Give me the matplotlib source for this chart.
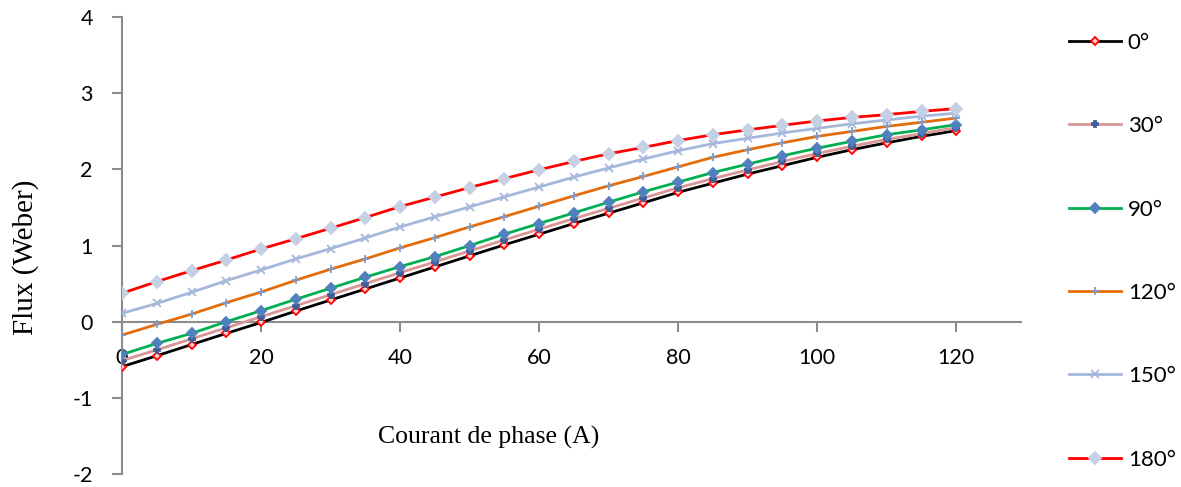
import numpy as np
import matplotlib
matplotlib.use('Agg')
from matplotlib import pyplot as plt

# courant de phase (A)
courant = [0, 5, 10, 15, 20, 25, 30, 35, 40, 45, 50, 55, 60,
           65, 70, 75, 80, 85, 90, 95, 100, 105, 110, 115, 120]

# flux (Weber) per rotor angle
flux_0 = [-0.59, -0.447, -0.30, -0.153, -0.01, 0.14, 0.285, 0.43, 0.575, 0.72, 0.865, 1.01, 1.15,
          1.29, 1.426, 1.562, 1.70, 1.82, 1.94, 2.05, 2.16, 2.26, 2.35, 2.435, 2.51]
flux_30 = [-0.51, -0.37, -0.225, -0.08, 0.065, 0.21, 0.355, 0.50, 0.645, 0.785, 0.93, 1.075, 1.215,
           1.355, 1.49, 1.625, 1.76, 1.88, 1.995, 2.105, 2.21, 2.305, 2.395, 2.47, 2.55]
flux_90 = [-0.43, -0.285, -0.153, 0.0, 0.145, 0.295, 0.44, 0.585, 0.724, 0.855, 1.0, 1.15, 1.29,
           1.43, 1.57, 1.707, 1.834, 1.96, 2.07, 2.18, 2.28, 2.37, 2.457, 2.52, 2.59]
flux_120 = [-0.175, -0.035, 0.10, 0.25, 0.39, 0.545, 0.69, 0.825, 0.97, 1.105, 1.246, 1.38, 1.518,
            1.654, 1.786, 1.908, 2.035, 2.16, 2.26, 2.35, 2.434, 2.50, 2.566, 2.62, 2.675]
flux_150 = [0.11, 0.24, 0.386, 0.54, 0.68, 0.825, 0.96, 1.10, 1.245, 1.378, 1.509, 1.64, 1.77,
            1.90, 2.02, 2.137, 2.246, 2.34, 2.41, 2.48, 2.54, 2.60, 2.65, 2.70, 2.74]
flux_180 = [0.374, 0.527, 0.671, 0.81, 0.956, 1.09, 1.228, 1.369, 1.513, 1.637, 1.763, 1.88, 1.996,
            2.105, 2.206, 2.29, 2.38, 2.457, 2.52, 2.58, 2.637, 2.684, 2.72, 2.763, 2.80]

labels = ['0°', '30°', '90°', '120°', '150°', '180°']
x_ticks = [0, 20, 40, 60, 80, 100, 120]
y_ticks = [-2, -1, 0, 1, 2, 3, 4]

tick_font = 'Lato'
label_font = 'Liberation Serif'

fig = plt.figure(figsize=(11.81, 4.87), dpi=100)
ax = fig.add_axes([0.1033, 0.0267, 0.7612, 0.938])

# line color, marker, marker face, marker edge, marker size
styles = [
    ('#000000', 'D', '#FFD0D0', '#FF0000', 4.0),
    ('#D99694', 'P', '#3F5E9A', '#3F5E9A', 4.5),
    ('#00B050', 'D', '#4F81BD', '#4F81BD', 5.0),
    ('#E46C0A', '+', '#7F9CCB', '#7F9CCB', 6.0),
    ('#A5B8DB', 'x', '#A5B8DB', '#A5B8DB', 5.5),
    ('#FF0000', 'D', '#C6D0E4', '#C6D0E4', 6.0),
]
series = [flux_0, flux_30, flux_90, flux_120, flux_150, flux_180]

for vals, lab, (lc, mk, mfc, mec, ms) in zip(series, labels, styles):
    ax.plot(courant, vals, color=lc, lw=2.0, marker=mk, markersize=ms,
            markerfacecolor=mfc, markeredgecolor=mec, markeredgewidth=1.3,
            label=lab, zorder=3)

ax.set_xlim(0, 129.3)
ax.set_ylim(-2, 4)

for side in ['top', 'right']:
    ax.spines[side].set_visible(False)
ax.spines['bottom'].set_position(('data', 0))
for side in ['left', 'bottom']:
    ax.spines[side].set_color('#8C8C8C')
    ax.spines[side].set_linewidth(1.5)

ax.set_xticks(x_ticks)
ax.set_yticks(y_ticks)
ax.set_xticklabels([str(t) for t in x_ticks], fontsize=15.5, family=tick_font)
ax.set_yticklabels([str(t) for t in y_ticks], fontsize=15.5, family=tick_font)
ax.tick_params(axis='both', direction='out', length=7, width=1.5, color='#8C8C8C')
ax.tick_params(axis='x', pad=12)
ax.tick_params(axis='y', pad=14)

fig.text(26 / 1181, 1 - 257 / 487, 'Flux (Weber)', rotation=90,
         ha='center', va='center', fontsize=21, family=label_font)
fig.text(489 / 1181, 1 - 437 / 487, 'Courant de phase (A)',
         ha='center', va='center', fontsize=18.5, family=label_font)

leg = fig.legend(loc='upper left', bbox_to_anchor=(1060 / 1181, 1 - 24 / 487), frameon=False,
                 prop={'family': tick_font, 'size': 16}, labelspacing=2.85,
                 handlelength=2.35, handletextpad=0.3, borderaxespad=0)

fig.savefig('out.png', dpi=100)
